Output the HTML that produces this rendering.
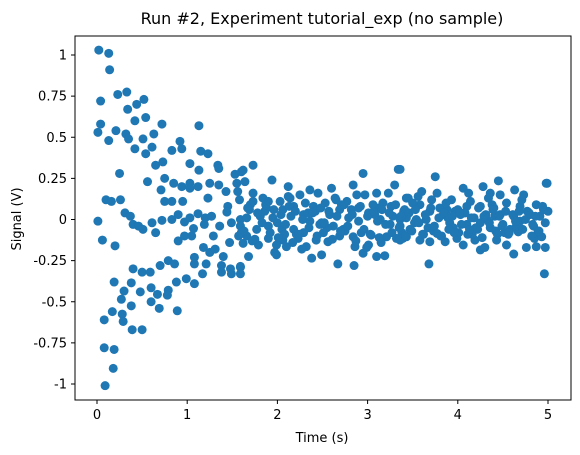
<!DOCTYPE html>
<html><head><meta charset="utf-8"><style>
body{margin:0;background:#fff;}
svg{display:block;font-family:"DejaVu Sans","Liberation Sans",sans-serif;}
</style></head><body>
<svg id="chart" width="580" height="455" viewBox="0 0 580 455">
<text x="322" y="24" text-anchor="middle" font-size="16">Run #2, Experiment tutorial_exp (no sample)</text>
<text x="322" y="442" text-anchor="middle" font-size="13">Time (s)</text>
<text x="21" y="219" text-anchor="middle" font-size="13" transform="rotate(-90 21 219)">Signal (V)</text>
<g id="points"></g>
<g id="xticks"></g>
<g id="yticks"></g>
<rect x="75" y="36" width="496" height="364" fill="none" stroke="#000" stroke-width="1"/>
</svg>
<script>
const times=[0.02,0.13,0.14,0.23,0.33,0.04,0.44,0.52,0.34,0.42,0.54,0.72,1.13,0.04,0.01,0.13,0.21,0.32,0.35,0.51,0.63,0.42,0.54,0.61,0.83,0.92,0.94,1.15,1.23,0.65,0.73,1.03,1.13,1.34,1.35,0.25,0.56,0.75,0.85,0.94,1.03,1.03,1.12,1.25,1.35,1.43,1.53,1.56,0.71,1.23,0.75,0.83,0.95,0.10,0.16,0.26,1.45,1.44,0.31,0.37,0.01,0.61,0.72,0.83,0.90,0.97,1.03,1.12,1.20,1.27,0.40,0.46,0.51,0.65,1.07,1.19,1.36,1.49,1.59,0.06,0.20,0.90,0.97,1.05,1.29,1.47,1.57,1.18,1.25,1.31,1.40,1.08,1.08,1.21,1.38,1.38,1.48,1.49,1.59,1.17,1.08,0.99,0.88,0.70,0.79,0.86,0.40,0.50,0.59,0.19,0.38,0.30,0.48,0.60,0.67,0.79,0.78,0.27,0.60,0.38,0.69,0.89,0.17,0.08,0.28,0.29,0.39,0.50,0.08,0.19,0.18,0.09,1.55,1.60,1.60,
1.73,1.62,1.64,1.94,2.12,1.73,1.58,1.73,1.84,1.90,2.03,2.14,2.25,2.36,2.45,2.60,2.84,2.95,3.34,3.30,2.88,2.97,3.10,3.23,3.43,1.66,1.81,1.95,2.06,2.18,2.29,2.40,2.53,2.58,2.69,2.77,2.82,2.90,3.01,3.12,3.17,3.28,3.40,2.36,2.47,2.62,2.73,2.90,3.14,3.36,1.59,1.77,1.90,2.05,2.18,2.29,2.51,1.66,1.90,2.06,2.23,2.43,2.69,2.84,3.04,3.21,3.32,3.43,1.79,1.99,2.10,2.32,2.56,2.86,3.01,1.62,1.99,1.68,2.38,2.49,2.95,3.10,3.19,2.67,2.85,1.59,1.59,
1.70,1.86,2.00,2.15,2.21,2.34,2.55,2.65,2.79,2.93,3.06,3.25,1.75,1.88,2.08,2.27,2.42,2.64,2.75,3.08,3.15,3.38,1.69,1.97,2.12,2.49,2.71,2.99,3.26,
3.36,3.75,4.06,4.12,4.28,4.45,4.36,4.63,4.73,4.99,3.60,3.77,3.45,3.93,4.47,4.87,3.58,3.80,4.10,4.25,4.54,5.00,3.41,3.69,3.97,4.38,4.69,3.43,3.54,3.84,4.03,4.18,4.32,4.47,4.62,4.80,4.91,3.65,3.91,4.10,4.25,4.50,4.69,3.36,3.47,3.73,3.95,4.36,4.58,4.84,3.58,3.69,3.86,3.99,4.19,4.43,4.67,4.85,4.93,3.39,4.06,4.25,4.30,4.54,4.62,4.76,4.87,4.97,3.68,4.96,3.36,3.77,
3.50,3.62,3.88,4.01,4.14,4.22,4.40,4.56,4.71,4.82,4.95,3.52,3.71,3.82,4.08,4.34,4.52,4.77,4.89,3.56,3.89,4.16,4.41,4.65,4.98,
1.63,1.67,1.72,1.78,1.83,1.87,1.92,1.96,2.01,2.04,2.09,2.13,2.17,2.20,2.24,2.28,2.31,2.35,2.39,2.44,2.48,2.52,2.57,2.61,2.66,2.70,2.74,2.78,2.83,2.87,2.92,2.96,3.00,3.03,3.07,3.11,3.13,3.16,3.20,3.24,3.27,3.31,3.35,3.37,3.42,3.46,3.49,3.53,3.57,3.61,3.64,3.67,3.70,3.74,3.79,3.81,3.85,3.87,3.90,3.94,3.96,4.00,4.04,4.07,4.11,4.15,4.20,4.23,4.27,4.31,4.35,4.39,4.42,4.46,4.49,4.53,4.57,4.61,4.64,4.68,4.72,4.75,4.79,4.83,4.86,4.90,4.94,4.97,4.02,4.13,4.29,4.44,4.59,4.74,4.88,3.63,3.72,3.83];
const signals=[1.03,1.01,0.91,0.76,0.775,0.72,0.70,0.73,0.67,0.60,0.62,0.58,0.57,0.58,0.53,0.48,0.54,0.52,0.49,0.49,0.52,0.43,0.40,0.44,0.42,0.475,0.43,0.415,0.40,0.33,0.35,0.34,0.30,0.33,0.31,0.28,0.23,0.25,0.22,0.20,0.22,0.19,0.20,0.22,0.21,0.17,0.275,0.17,0.18,0.13,0.11,0.11,0.11,0.12,0.11,0.12,0.08,0.045,0.04,0.02,-0.01,-0.02,-0.005,0.00,0.03,-0.015,0.01,0.035,0.01,0.02,-0.03,-0.04,-0.06,-0.08,-0.055,-0.03,-0.04,-0.02,0.00,-0.125,-0.16,-0.13,-0.10,-0.10,-0.10,-0.14,-0.10,-0.17,-0.20,-0.18,-0.225,-0.23,-0.27,-0.27,-0.28,-0.32,-0.30,-0.33,-0.29,-0.33,-0.39,-0.36,-0.38,-0.28,-0.25,-0.27,-0.30,-0.32,-0.32,-0.38,-0.385,-0.435,-0.44,-0.415,-0.455,-0.43,-0.46,-0.485,-0.50,-0.525,-0.54,-0.555,-0.56,-0.61,-0.575,-0.62,-0.67,-0.67,-0.78,-0.79,-0.905,-1.01,0.22,0.29,-0.08,
0.33,0.30,0.23,0.24,0.20,0.16,0.12,0.11,0.13,0.11,0.11,0.13,0.15,0.18,0.16,0.19,0.21,0.28,0.305,0.21,0.15,0.15,0.16,0.16,0.13,0.01,0.02,0.01,0.06,0.08,0.03,0.08,0.10,0.03,0.06,0.11,0.06,0.07,0.04,0.07,0.10,0.02,0.05,-0.01,-0.03,-0.04,-0.06,-0.01,0.00,0.00,-0.04,-0.06,-0.04,-0.06,-0.06,-0.08,-0.08,-0.10,-0.115,-0.125,-0.115,-0.125,-0.10,-0.105,-0.095,-0.105,-0.115,-0.105,-0.155,-0.155,-0.165,-0.165,-0.135,-0.165,-0.155,-0.145,-0.215,-0.225,-0.235,-0.215,-0.205,-0.225,-0.22,-0.27,-0.28,-0.285,-0.33,
0.09,0.05,-0.02,0.02,-0.09,0.04,-0.05,0.12,0.01,-0.08,0.09,-0.03,-0.12,0.07,-0.09,-0.18,0.05,0.13,-0.07,0.03,-0.14,-0.08,0.06,-0.20,0.14,-0.02,0.09,-0.17,0.08,
0.305,0.26,0.19,0.16,0.20,0.235,0.16,0.18,0.15,0.22,0.17,0.16,0.13,0.12,0.15,0.09,0.09,0.07,0.08,0.08,0.10,0.05,0.06,0.05,0.05,0.09,0.08,0.01,0.00,0.03,0.03,0.01,0.00,0.03,0.02,0.03,0.02,0.00,-0.02,-0.03,-0.02,-0.03,-0.01,-0.04,-0.06,-0.07,-0.05,-0.05,-0.06,-0.04,-0.125,-0.135,-0.135,-0.115,-0.125,-0.125,-0.075,-0.115,-0.105,-0.115,-0.155,-0.185,-0.17,-0.155,-0.21,-0.17,-0.165,-0.17,-0.27,-0.33,-0.125,-0.085,
0.10,-0.09,0.06,-0.08,0.11,-0.06,0.07,-0.09,0.12,-0.10,0.06,-0.02,0.12,-0.10,0.04,0.13,-0.08,0.05,-0.07,0.14,0.01,-0.09,0.02,-0.04,0.22,
-0.07,0.07,-0.13,0.04,-0.02,0.09,-0.08,0.06,-0.11,0.03,-0.03,0.08,-0.14,0.05,-0.09,0.00,0.10,-0.05,0.04,-0.10,0.07,-0.02,0.05,-0.12,0.02,-0.07,0.09,-0.04,0.03,-0.13,0.08,-0.06,0.02,-0.09,0.05,-0.01,-0.11,0.06,-0.03,0.04,-0.08,0.09,-0.05,0.02,-0.10,0.04,-0.07,0.06,-0.02,-0.09,0.03,-0.05,0.07,-0.04,0.01,-0.10,0.04,0.10,-0.06,0.02,-0.08,0.06,-0.03,0.04,-0.09,0.01,-0.05,0.07,-0.11,0.03,-0.02,0.06,-0.07,0.02,-0.04,0.05,-0.08,0.03,-0.01,0.05,-0.06,0.00,0.04,-0.03,0.02,-0.07,0.08,-0.02,0.04,-0.06,0.02,-0.09];
const xTicks=[0,1,2,3,4,5];
const yTicks=[1,0.75,0.5,0.25,0,-0.25,-0.5,-0.75,-1];
const yTickLabels=["1","0.75","0.5","0.25","0","-0.25","-0.5","-0.75","-1"];
const X=t=>97+t*90.2;
const Y=v=>219.5-v*164.5;
const NS="http://www.w3.org/2000/svg";
const pg=document.getElementById('points');
const n=Math.min(times.length,signals.length);
for(let i=0;i<n;i++){
  const c=document.createElementNS(NS,'circle');
  c.setAttribute('cx',X(times[i]));c.setAttribute('cy',Y(signals[i]));c.setAttribute('r',4.5);c.setAttribute('fill','#1f77b4');
  
  
  pg.appendChild(c);
}
const xg=document.getElementById('xticks');
xTicks.forEach(t=>{
  const l=document.createElementNS(NS,'line');
  l.setAttribute('x1',X(t));l.setAttribute('x2',X(t));l.setAttribute('y1',400);l.setAttribute('y2',404);l.setAttribute('stroke','#000');
  
  
  xg.appendChild(l);
  const tx=document.createElementNS(NS,'text');
  tx.setAttribute('x',X(t));tx.setAttribute('y',419);tx.setAttribute('text-anchor','middle');tx.setAttribute('font-size','13');
  tx.textContent=String(t);
  
  
  xg.appendChild(tx);
});
const yg=document.getElementById('yticks');
yTicks.forEach((v,i)=>{
  const l=document.createElementNS(NS,'line');
  l.setAttribute('x1',71);l.setAttribute('x2',75);l.setAttribute('y1',Y(v));l.setAttribute('y2',Y(v));l.setAttribute('stroke','#000');
  
  
  yg.appendChild(l);
  const tx=document.createElementNS(NS,'text');
  tx.setAttribute('x',67);tx.setAttribute('y',Y(v)+4.5);tx.setAttribute('text-anchor','end');tx.setAttribute('font-size','13');
  tx.textContent=yTickLabels[i];
  
  
  yg.appendChild(tx);
});
</script>
</body></html>
